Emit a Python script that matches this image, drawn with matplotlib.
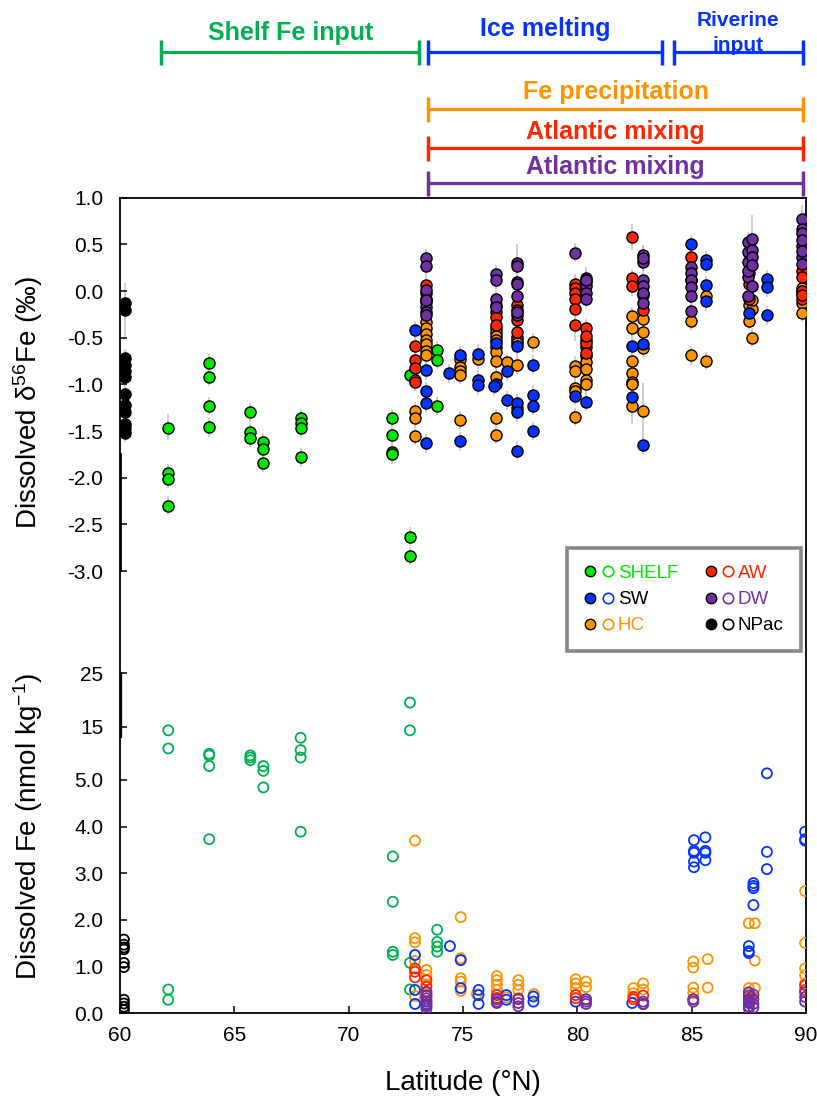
import numpy as np
import matplotlib.pyplot as plt
from matplotlib.lines import Line2D
from matplotlib.legend_handler import HandlerTuple
from matplotlib.transforms import blended_transform_factory

plt.rcParams['font.family'] = ['Liberation Sans', 'DejaVu Sans']
plt.rcParams['mathtext.fontset'] = 'custom'
plt.rcParams['mathtext.rm'] = 'Liberation Sans'
plt.rcParams['mathtext.it'] = 'Liberation Sans:italic'
plt.rcParams['mathtext.bf'] = 'Liberation Sans:bold'

# dissolved d56Fe (permil), grouped by station latitude
npac_d = [(60.22, [-0.13, -0.2, -0.72, -0.79, -0.86, -0.92, -1.10, -1.22, -1.30, -1.42, -1.47, -1.52])]
shelf_d = [(62.11, [-1.47, -1.95, -2.01, -2.30]),
           (63.9, [-0.77, -0.92, -1.23, -1.46]),
           (65.7, [-1.30, -1.51, -1.57]),
           (66.27, [-1.62, -1.69, -1.84]),
           (67.9, [-1.36, -1.41, -1.47, -1.78]),
           (71.91, [-1.36, -1.54, -1.72, -1.75]),
           (72.68, [-0.90, -2.63, -2.84]),
           (73.85, [-0.63, -0.74, -1.23])]
hc_d = [(72.9, [-0.95, -1.29, -1.36, -1.55]),
        (73.38, [-0.33, -0.40, -0.46, -0.52, -0.57, -0.64, -0.69]),
        (74.87, [-0.73, -0.81, -0.86, -0.90, -1.38]),
        (75.64, [-0.73]),
        (76.43, [-0.40, -0.44, -0.48, -0.52, -0.60, -0.65, -0.75, -0.92, -1.36, -1.54]),
        (76.91, [-0.76]),
        (77.37, [-0.49, -0.52, -0.56, -0.79, -1.25]),
        (78.08, [-0.55]),
        (79.9, [-0.80, -0.86, -1.04, -1.07, -1.35]),
        (80.37, [-0.52, -0.60, -0.70, -0.76, -0.84, -0.95, -1.00]),
        (82.41, [-0.27, -0.40, -0.75, -0.88, -0.97, -1.00, -1.23]),
        (82.89, [-0.30, -0.44, -0.61, -1.28]),
        (84.96, [-0.32, -0.69]),
        (85.63, [-0.05, -0.75]),
        (87.5, [-0.15, -0.32]),
        (87.66, [-0.19, -0.50, -0.10]),
        (89.84, [0.03, -0.02, -0.13, -0.23, 0.0])]
sw_d = [(72.9, [-0.42]),
        (73.38, [-0.85, -1.07, -1.20, -1.63]),
        (74.39, [-0.88]),
        (74.87, [-0.69, -1.61]),
        (75.64, [-0.67, -0.95, -1.01]),
        (76.43, [-0.56, -1.00]),
        (76.35, [-1.02]),
        (76.91, [-0.86, -1.17]),
        (77.37, [-0.59, -1.20, -1.30, -1.71]),
        (78.08, [-0.79, -1.11, -1.23, -1.50]),
        (79.9, [-1.12]),
        (80.37, [-1.19]),
        (82.41, [-0.59, -1.13]),
        (82.89, [-0.57, -1.65]),
        (84.96, [0.50]),
        (85.63, [0.33, 0.29, 0.06, -0.11]),
        (87.5, [-0.24]),
        (88.29, [0.13, 0.04, -0.26])]
aw_d = [(72.9, [-0.59, -0.74, -0.82, -0.97]),
        (73.38, [0.06, -0.08, -0.02, -0.12]),
        (76.43, [-0.22, -0.28, -0.36, -0.15]),
        (77.37, [-0.15, -0.31, -0.44, -0.20]),
        (79.9, [0.08, 0.03, -0.02, -0.09, -0.19, -0.36]),
        (80.37, [-0.40, -0.56, -0.66, -0.48]),
        (82.41, [0.58, 0.14, 0.05]),
        (82.89, [-0.04, -0.20]),
        (84.96, [0.36, 0.12]),
        (87.5, [0.19, -0.08, 0.08]),
        (89.84, [0.22, 0.15, -0.08, 0.0, -0.04])]
dw_d = [(73.38, [0.35, 0.27, 0.01, -0.17, -0.22, -0.26, -0.10]),
        (76.43, [0.18, 0.12, -0.09, -0.17]),
        (77.37, [0.30, 0.27, 0.10, 0.08, -0.05, -0.26, -0.22]),
        (79.9, [0.41]),
        (80.37, [0.14, 0.10, 0.05, -0.02, -0.08, 0.12]),
        (82.89, [0.39, 0.31, 0.12, 0.05, -0.02, -0.13, 0.35]),
        (84.96, [0.26, 0.19, 0.12, 0.04, -0.05, -0.21]),
        (87.48, [0.53, 0.42, 0.31, 0.15, -0.05, 0.22]),
        (87.66, [0.56, 0.44, 0.37, 0.28, 0.05]),
        (89.84, [0.77, 0.66, 0.62, 0.48, 0.37, 0.29, 0.55, 0.43])]

# larger analytical errors (lat, d56Fe, 2SD)
big_err = [(60.22, -0.2, 0.29), (60.22, -1.1, 0.45), (62.11, -1.46, 0.14),
           (73.38, 0.3, 0.15), (76.43, 0.15, 0.13), (77.37, 0.3, 0.2),
           (79.9, -0.19, 0.35), (80.37, 0.1, 0.16), (82.41, 0.58, 0.14),
           (82.41, -0.8, 0.62), (82.89, -1.28, 0.3), (82.89, 0.35, 0.14),
           (84.96, -0.22, 0.2), (87.66, 0.56, 0.25), (89.84, 0.77, 0.15)]

# dissolved Fe (nmol/kg)
npac_fe = [(60.17, [1.58, 1.47, 1.41, 1.37, 1.08, 0.99, 0.29, 0.21, 0.14, 0.07])]
shelf_fe = [(62.11, [14.3, 10.9, 0.51, 0.29]),
            (63.9, [9.9, 9.6, 7.6, 3.73]),
            (65.7, [9.6, 9.2, 8.7]),
            (66.27, [7.6, 6.7, 4.84]),
            (67.9, [12.9, 10.6, 9.2, 3.89]),
            (71.93, [3.36, 2.39, 1.32, 1.25]),
            (72.68, [19.5, 14.3, 1.08, 0.51]),
            (73.87, [1.79, 1.53, 1.43, 1.32])]
hc_fe = [(72.9, [3.70, 1.61, 1.52, 1.12, 0.37]),
         (73.4, [0.93, 0.82, 0.71, 0.61]),
         (74.9, [2.06, 1.18, 0.75, 0.68, 0.48]),
         (75.6, [0.41]),
         (76.48, [0.80, 0.71, 0.61, 0.50]),
         (76.9, [0.34]),
         (77.42, [0.71, 0.61, 0.50]),
         (78.1, [0.41]),
         (79.93, [0.73, 0.64, 0.54]),
         (80.38, [0.68, 0.56]),
         (82.45, [0.54, 0.43]),
         (82.88, [0.64, 0.51]),
         (85.07, [1.11, 0.98, 0.55, 0.43]),
         (85.7, [1.16, 0.55]),
         (87.5, [1.93, 0.54, 0.43]),
         (87.76, [1.93, 1.13, 0.54]),
         (89.96, [2.62, 1.51, 0.96, 0.82, 0.64])]
sw_fe = [(72.9, [1.25, 0.5, 0.2]),
         (73.4, [0.18, 0.25]),
         (74.43, [1.44]),
         (74.9, [1.14, 0.54]),
         (75.68, [0.50, 0.39, 0.2]),
         (76.9, [0.39, 0.29]),
         (78.08, [0.36, 0.25]),
         (79.93, [0.25]),
         (82.4, [0.22]),
         (82.88, [0.2]),
         (85.1, [3.71, 3.48, 3.44, 3.25, 3.13]),
         (85.6, [3.77, 3.48, 3.44, 3.28]),
         (87.5, [1.44, 1.33, 1.29, 0.25]),
         (87.7, [2.79, 2.73, 2.68, 2.32]),
         (88.29, [6.24, 3.46, 3.09]),
         (89.96, [3.89, 3.73, 3.70])]
aw_fe = [(72.9, [0.96, 0.89, 0.77]),
         (73.4, [0.71, 0.57, 0.46, 0.38]),
         (76.48, [0.39, 0.33]),
         (77.42, [0.32]),
         (79.93, [0.39, 0.32]),
         (80.38, [0.3]),
         (82.45, [0.35, 0.30]),
         (82.88, [0.38]),
         (85.07, [0.3]),
         (87.6, [0.35, 0.3]),
         (89.96, [0.60, 0.50])]
dw_fe = [(73.4, [0.45, 0.38, 0.32, 0.26, 0.2, 0.15, 0.1]),
         (76.48, [0.3, 0.25, 0.22]),
         (77.42, [0.3, 0.22, 0.15]),
         (80.38, [0.3, 0.25, 0.2]),
         (82.88, [0.25, 0.2]),
         (85.07, [0.3, 0.25]),
         (87.5, [0.45, 0.38, 0.3, 0.22, 0.15, 0.1]),
         (87.7, [0.4, 0.3, 0.2, 0.12]),
         (89.96, [0.45, 0.35, 0.25])]

proc_labels = ['Shelf Fe input', 'Ice melting', 'Riverine\ninput', 'Fe precipitation', 'Atlantic mixing', 'Atlantic mixing']
proc_start = [61.79, 73.48, 84.23, 73.48, 73.48, 73.48]
proc_end = [73.09, 83.69, 89.86, 89.86, 89.86, 89.86]

legend_labels = ['SHELF', 'SW', 'HC', 'AW', 'DW', 'NPac']

GREEN = '#00E600'
DKGREEN = '#00B050'
BLUE = '#0433FF'
ORANGE = '#FF9300'
RED = '#FF2600'
PURPLE = '#7030A0'


def y_d(d):
    return 15.476 + 2.0 * np.asarray(d, float)


def y_fe(f):
    f = np.asarray(f, float)
    return np.where(f <= 5, f, 5 + (f - 5) * 0.1143)


def expand(groups):
    lat = np.array([g[0] for g in groups for v in g[1]])
    val = np.array([v for g in groups for v in g[1]])
    return lat, val


fig = plt.figure(figsize=(8.17, 11.01), dpi=100)
ax = fig.add_axes([120 / 817, 1 - 1013.3 / 1101, 686 / 817, 815.6 / 1101])

# error bars
for groups in [npac_d, shelf_d, hc_d, sw_d, aw_d, dw_d]:
    lat, val = expand(groups)
    ax.vlines(lat, y_d(val - 0.1), y_d(val + 0.1), color='#c4c4c4', lw=1.1, zorder=1)
for lat, v, e in big_err:
    ax.vlines(lat, y_d(v - e), y_d(v + e), color='#c4c4c4', lw=1.1, zorder=1)

# top: d56Fe filled symbols
top_series = [(shelf_d, GREEN), (hc_d, ORANGE), (sw_d, BLUE), (aw_d, RED), (dw_d, PURPLE), (npac_d, 'black')]
for groups, col in top_series:
    lat, val = expand(groups)
    ax.scatter(lat, y_d(val), s=64, c=col, edgecolors='black', linewidths=1.0, zorder=3)

# bottom: dFe open symbols
bot_series = [(npac_fe, 'black'), (shelf_fe, DKGREEN), (hc_fe, ORANGE), (sw_fe, BLUE), (aw_fe, RED), (dw_fe, PURPLE)]
for groups, col in bot_series:
    lat, val = expand(groups)
    ax.scatter(lat, y_fe(val), s=52, facecolors='none', edgecolors=col, linewidths=1.3, zorder=3)

ax.set_xlim(60, 90)
ax.set_ylim(0, 17.476)
ax.set_xticks(np.arange(60, 91, 5))

d_ticks = [1.0, 0.5, 0.0, -0.5, -1.0, -1.5, -2.0, -2.5, -3.0]
fe_ticks = [0, 1, 2, 3, 4, 5, 15, 25]
fe_labels = ['0.0', '1.0', '2.0', '3.0', '4.0', '5.0', '15', '25']
ax.set_yticks(list(y_d(d_ticks)) + list(y_fe(fe_ticks)))
ax.set_yticklabels(['%.1f' % d for d in d_ticks] + fe_labels)

ax.tick_params(direction='in', length=5, width=1.1, labelsize=15)
ax.tick_params(axis='x', pad=9)
ax.tick_params(axis='y', pad=12)
for sp in ax.spines.values():
    sp.set_linewidth(1.3)

# doubled spine pieces as in the original figure
ax.plot([60.04, 60.04], y_d([-1.75, -3.0]), color='black', lw=1.3, clip_on=False, zorder=4)
ax.plot([60.04, 60.04], y_fe([13, 25]), color='black', lw=1.6, clip_on=False, zorder=4)

fig.text(28 / 817, 1 - 403 / 1101, 'Dissolved δ$^{56}$Fe (‰)', rotation=90,
         ha='center', va='center', fontsize=20)
fig.text(28 / 817, 1 - 826 / 1101, 'Dissolved Fe (nmol kg$^{-1}$)', rotation=90,
         ha='center', va='center', fontsize=20)
fig.text(463 / 817, 1 - 1083 / 1101, 'Latitude (°N)', ha='center', va='center', fontsize=20)

# process bars above the plot
bt = blended_transform_factory(ax.transData, fig.transFigure)
proc_colors = [DKGREEN, BLUE, BLUE, ORANGE, RED, PURPLE]
bar_y = [51.7, 51.7, 51.7, 109, 148.3, 183.3]
text_y = [33, 29, 33, 92, 132, 167]
text_size = [18, 18, 15, 18, 18, 18]
for lab, x0, x1, col, by, ty, fs in zip(proc_labels, proc_start, proc_end, proc_colors,
                                        bar_y, text_y, text_size):
    ax.plot([x0, x1], [1 - by / 1101] * 2, transform=bt, color=col, lw=2.3,
            marker='|', ms=18, mew=2.5, clip_on=False)
    ax.text((x0 + x1) / 2, 1 - ty / 1101, lab, transform=bt, ha='center', va='center',
            fontsize=fs, fontweight='bold', color=col, linespacing=1.35)

# legend
fill_cols = [GREEN, BLUE, ORANGE, RED, PURPLE, 'black']
open_cols = [GREEN, BLUE, ORANGE, RED, PURPLE, 'black']
text_cols = [GREEN, 'black', ORANGE, RED, PURPLE, 'black']
handles = []
for fc, oc in zip(fill_cols, open_cols):
    h1 = Line2D([], [], ls='none', marker='o', ms=7.5, mfc=fc, mec='black', mew=1.0)
    h2 = Line2D([], [], ls='none', marker='o', ms=7.5, mfc='none', mec=oc, mew=1.2)
    handles.append((h1, h2))
leg = ax.legend(handles, legend_labels, handler_map={tuple: HandlerTuple(ndivide=None, pad=0.25)},
                ncol=2, loc='upper left', bbox_to_anchor=(0.6516, 0.5705), fontsize=13.5,
                labelcolor=text_cols, fancybox=False, edgecolor='#888888', framealpha=1,
                handlelength=1.6, handletextpad=0.2, columnspacing=1.4, labelspacing=0.48,
                borderpad=0.9, borderaxespad=0)
leg.get_frame().set_linewidth(2.6)

plt.savefig('out.png', dpi=100)
